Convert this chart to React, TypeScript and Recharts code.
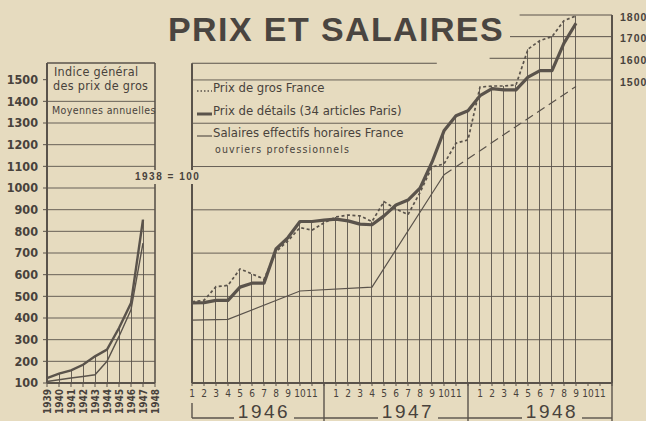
import React from 'react'
import { ComposedChart, Line, Bar, XAxis, YAxis, CartesianGrid, ReferenceLine } from 'recharts'

// ---------------------------------------------------------------------------
// Prix et salaires, 1946-1948 (indices, 1938 = 100)
// ---------------------------------------------------------------------------

const PAPER = '#e6dbbf'
const INK = '#5a534b'
const TEXT = '#48423c'
const NARROW = "'Liberation Sans Narrow', 'DejaVu Sans Condensed', 'Roboto Condensed', 'Liberation Sans', sans-serif"
const SANS = "'Liberation Sans', Arial, 'DejaVu Sans', sans-serif"

// monthly panel: jan 1946 .. dec 1948
const monthLabels = [
  '1', '2', '3', '4', '5', '6', '7', '8', '9', '10', '11', '',
  '1', '2', '3', '4', '5', '6', '7', '8', '9', '10', '11', '',
  '1', '2', '3', '4', '5', '6', '7', '8', '9', '10', '11', '',
]
const yearLabels = ['1946', '1947', '1948']
const yearCenter = [6, 18, 30]
const yearStart = [0, 11, 23]
const yearEnd = [11, 23, 35]

const prixGros = [
  475, 482, 545, 551, 627, 604, 580, 706, 757, 818, 806, 840,
  867, 876, 872, 846, 938, 903, 878, 980, 1098, 1112, 1208, 1223,
  1467, 1472, 1472, 1477, 1642, 1682, 1700, 1774, 1796, null, null, null,
]
const prixDetails = [
  470, 471, 482, 482, 543, 561, 561, 719, 772, 846, 846, 852,
  857, 849, 834, 831, 872, 922, 945, 1000, 1120, 1265, 1335, 1358,
  1427, 1460, 1454, 1454, 1513, 1543, 1543, 1670, 1762, null, null, null,
]
// salaires: relevés effectifs (reliés en ligne droite)
const salaires = [
  390, null, null, 394, null, null, null, null, null, 525, null, null,
  null, null, null, 543, null, null, null, null, null, 1062, null, null,
  null, null, null, null, null, null, null, null, null, null, null, null,
]
// salaires: prolongement en tirets
const salairesPrevus = [
  null, null, null, null, null, null, null, null, null, null, null, null,
  null, null, null, null, null, null, null, null, null, 1062, null, null,
  null, null, null, null, null, null, null, null, 1470, null, null, null,
]

// annual panel: 1939 .. 1948
const annees = ['1939', '1940', '1941', '1942', '1943', '1944', '1945', '1946', '1947', '1948']
const indiceHaut = [123, 143, 158, 184, 223, 254, 354, 469, 854, null]
const indiceBas = [107, 115, 123, 130, 138, 200, 315, 438, 746, null]

const leftTicks = [100, 200, 300, 400, 500, 600, 700, 800, 900, 1000, 1100, 1200, 1300, 1400, 1500]
const rightTicks = [1500, 1600, 1700, 1800]

const BOX_TOP = 1577
const STEP = 420 / 35

const maxOf = (...v: (number | null)[]) => {
  const n = v.filter((x): x is number => x != null)
  return n.length ? Math.max(...n) : null
}

const monthly = monthLabels.map((m, i) => ({
  idx: i,
  gros: prixGros[i],
  details: prixDetails[i],
  salaires: salaires[i],
  prevus: salairesPrevus[i],
  drop: maxOf(prixGros[i], prixDetails[i], salaires[i]),
}))

const annual = annees.map((a, i) => ({
  idx: i,
  haut: indiceHaut[i],
  bas: indiceBas[i],
  drop: maxOf(indiceHaut[i], indiceBas[i]),
}))

function YearTick({ x, y, payload }: any) {
  const k = yearCenter.indexOf(payload.value)
  if (k < 0) return null
  const left = x + (yearStart[k] - payload.value) * STEP
  const right = x + (yearEnd[k] - payload.value) * STEP
  const base = y + 15
  return (
    <g stroke={INK} strokeWidth={1.4}>
      <line x1={left} y1={base} x2={x - 30} y2={base} />
      <line x1={x + 30} y1={base} x2={right} y2={base} />
      <line x1={right} y1={y - 20} x2={right} y2={y + 18} />
      {k === 0 && <line x1={left} y1={y} x2={left} y2={base} />}
      <text x={x} y={base} textAnchor="middle" fontSize={19} fill={TEXT} stroke="none"
        fontFamily={SANS} letterSpacing={2.5}>
        {yearLabels[k]}
      </text>
    </g>
  )
}

function RotYearTick({ x, y, payload }: any) {
  return (
    <text x={x} y={y} transform={`rotate(-90 ${x} ${y})`} textAnchor="end" dominantBaseline="central"
      fontSize={10} fontWeight={700} fill={TEXT} fontFamily={NARROW}>
      {annees[payload.value]}
    </text>
  )
}

const abs = (left: number, top: number, extra: React.CSSProperties = {}): React.CSSProperties => ({
  position: 'absolute', left, top, color: TEXT, whiteSpace: 'nowrap', lineHeight: 1, ...extra,
})

function LegendRow({ top, dash, width, label }: { top: number; dash?: string; width: number; label: string }) {
  return (
    <div style={abs(196, top, { display: 'flex', alignItems: 'center', fontFamily: NARROW, fontSize: 13 })}>
      <svg width={17} height={12}>
        <line x1={1} y1={9} x2={16} y2={9} stroke={INK} strokeWidth={width} strokeDasharray={dash} />
      </svg>
      <span>{label}</span>
    </div>
  )
}

export default function App() {
  return (
    <div style={{ position: 'absolute', left: 0, top: 0, width: 646, height: 421, background: PAPER, overflow: 'hidden' }}>
      {/* right panel: monthly */}
      <div style={{ position: 'absolute', left: 0, top: 0 }}>
        <ComposedChart width={646} height={421} data={monthly} margin={{ top: 15, right: 0, bottom: 0, left: 192 }}>
          <CartesianGrid vertical={false} horizontalValues={[200, 300, 400, 500, 600, 700, 800, 900, 1000, 1100, 1200, 1300, 1400, 1500]}
            stroke={INK} strokeOpacity={0.9} />
          <XAxis dataKey="idx" type="number" domain={[0, 35]} ticks={monthly.map(d => d.idx)} interval={0}
            tickFormatter={(v: number) => monthLabels[v]} height={20} tickSize={3} tickMargin={4}
            axisLine={{ stroke: INK, strokeWidth: 2 }} tickLine={{ stroke: INK }}
            tick={{ fontSize: 10, fill: TEXT, fontFamily: NARROW }} />
          <XAxis xAxisId="yr" dataKey="idx" type="number" domain={[0, 35]} ticks={yearCenter} interval={0}
            height={18} tickSize={0} tickMargin={0} axisLine={false} tickLine={false} tick={<YearTick />} />
          <YAxis orientation="right" domain={[100, 1800]} ticks={rightTicks} width={34} allowDataOverflow
            axisLine={{ stroke: INK, strokeWidth: 2 }} tickLine={false} tickMargin={2}
            tick={{ fontSize: 10.5, fill: TEXT, fontWeight: 700, fontFamily: SANS, letterSpacing: 1, dy: 2 }} />
          <ReferenceLine segment={[{ x: 0, y: 100 }, { x: 0, y: BOX_TOP }]} stroke={INK} strokeWidth={2} ifOverflow="visible" />
          <ReferenceLine segment={[{ x: 0, y: BOX_TOP }, { x: 20.4, y: BOX_TOP }]} stroke={INK} strokeWidth={1.2} ifOverflow="visible" />
          <ReferenceLine segment={[{ x: 24.8, y: 1600 }, { x: 35, y: 1600 }]} stroke={INK} ifOverflow="visible" />
          <ReferenceLine segment={[{ x: 26.5, y: 1700 }, { x: 35, y: 1700 }]} stroke={INK} ifOverflow="visible" />
          <ReferenceLine segment={[{ x: 27.3, y: 1800 }, { x: 35, y: 1800 }]} stroke={INK} ifOverflow="visible" />
          <Bar dataKey="drop" barSize={1} fill={INK} fillOpacity={0.9} isAnimationActive={false} />
          <Line type="linear" dataKey="salaires" stroke={INK} strokeWidth={1.2} dot={false} connectNulls isAnimationActive={false} />
          <Line type="linear" dataKey="prevus" stroke={INK} strokeWidth={1.2} strokeDasharray="9 5" dot={false} connectNulls isAnimationActive={false} />
          <Line type="linear" dataKey="gros" stroke={INK} strokeWidth={1.7} strokeDasharray="3 2.5" dot={false} isAnimationActive={false} />
          <Line type="linear" dataKey="details" stroke={INK} strokeWidth={3.2} strokeLinejoin="round" dot={false} isAnimationActive={false} />
        </ComposedChart>
      </div>

      {/* left panel: annual averages */}
      <div style={{ position: 'absolute', left: 0, top: 0 }}>
        <ComposedChart width={160} height={421} data={annual} margin={{ top: 63, right: 5, bottom: 0, left: 0 }}>
          <CartesianGrid vertical={false} horizontalValues={[200, 300, 400, 500, 600, 700, 800, 900, 1000, 1100, 1200, 1300, 1400]}
            stroke={INK} strokeOpacity={0.9} />
          <XAxis dataKey="idx" type="number" domain={[0, 9]} ticks={annual.map(d => d.idx)} interval={0}
            height={38} tickSize={4} tickMargin={2} axisLine={{ stroke: INK, strokeWidth: 2 }} tickLine={{ stroke: INK }}
            tick={<RotYearTick />} />
          <YAxis domain={[100, BOX_TOP]} ticks={leftTicks} width={47} interval={0} allowDataOverflow
            axisLine={{ stroke: INK, strokeWidth: 2 }} tickSize={4} tickMargin={5} tickLine={{ stroke: INK }}
            tick={{ fontSize: 12.5, fill: TEXT, fontWeight: 700, fontFamily: NARROW }} />
          <ReferenceLine x={9} stroke={INK} strokeWidth={1.6} />
          <ReferenceLine y={BOX_TOP} stroke={INK} strokeWidth={1.6} ifOverflow="visible" />
          <Bar dataKey="drop" barSize={1} fill={INK} fillOpacity={0.9} isAnimationActive={false} />
          <Line type="linear" dataKey="bas" stroke={INK} strokeWidth={1.4} dot={false} isAnimationActive={false} />
          <Line type="linear" dataKey="haut" stroke={INK} strokeWidth={2.4} dot={false} isAnimationActive={false} />
        </ComposedChart>
      </div>

      {/* title and notes */}
      <div style={abs(168, 12, { fontFamily: SANS, fontWeight: 700, fontSize: 34, letterSpacing: 1.4, color: '#4a4540' })}>
        PRIX ET SALAIRES
      </div>

      <div style={abs(54, 66, { fontFamily: NARROW, fontSize: 12.5, letterSpacing: 0.3 })}>Indice général</div>
      <div style={abs(53, 80, { fontFamily: NARROW, fontSize: 12.5, letterSpacing: 0.3 })}>des prix de gros</div>
      <div style={abs(52, 105, { fontFamily: NARROW, fontSize: 10.5, letterSpacing: 0.4 })}>Moyennes annuelles</div>

      <div style={abs(133, 170, { fontFamily: SANS, fontWeight: 700, fontSize: 10, letterSpacing: 1.5, background: PAPER, padding: '2px 2px' })}>
        1938 = 100
      </div>

      <LegendRow top={81} dash="1.5 2" width={1.6} label="Prix de gros France" />
      <LegendRow top={104} width={3} label="Prix de détails (34 articles Paris)" />
      <LegendRow top={126} width={1.2} label="Salaires effectifs horaires France" />
      <div style={abs(215, 144, { fontFamily: NARROW, fontSize: 10.5, letterSpacing: 1.1 })}>ouvriers professionnels</div>
    </div>
  )
}
